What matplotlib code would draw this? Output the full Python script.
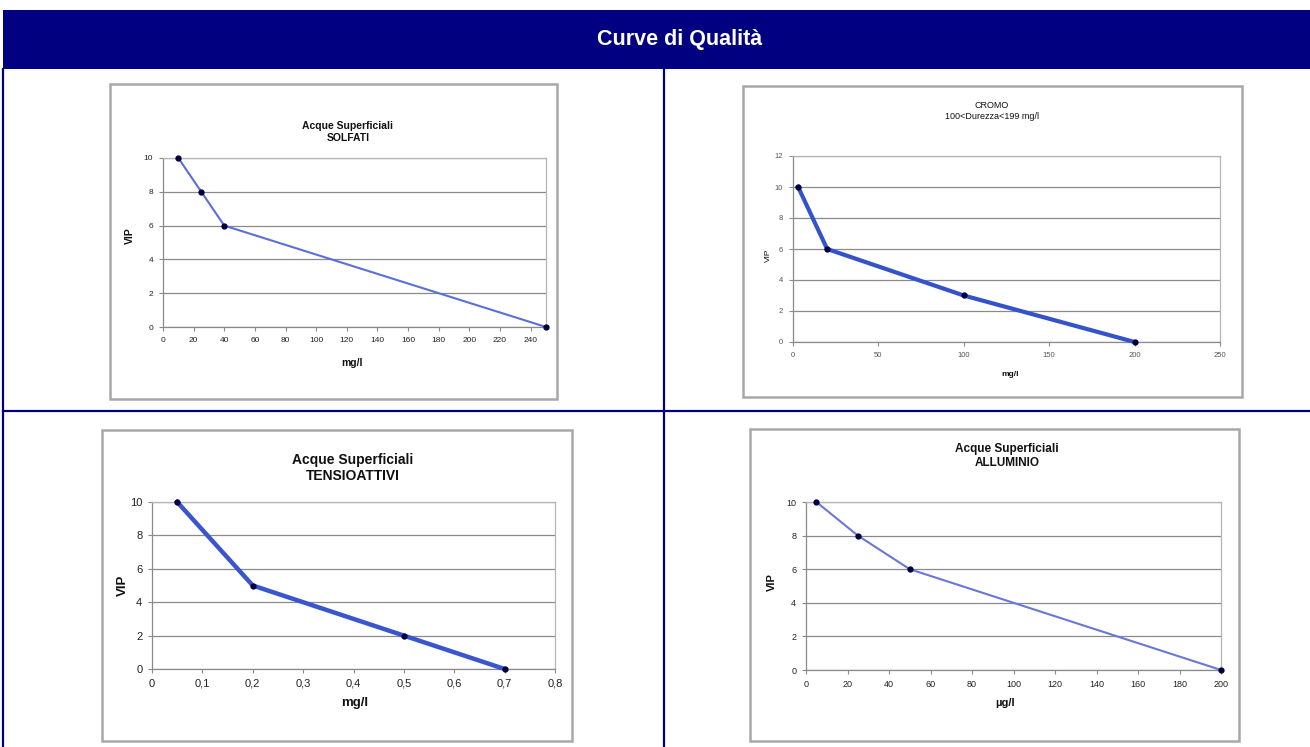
import matplotlib
matplotlib.use("Agg")
import matplotlib.pyplot as plt
from matplotlib.patches import Rectangle
from matplotlib.lines import Line2D
from matplotlib.ticker import FuncFormatter, MultipleLocator

plt.rcParams['font.family'] = ['Liberation Sans', 'DejaVu Sans']

W, H = 1310, 747

# ---------------- data ----------------
main_title = "Curve di Qualità"

solfati_title = "Acque Superficiali\nSOLFATI"
solfati_x = [10, 25, 40, 250]
solfati_y = [10, 8, 6, 0]

cromo_title = "CROMO\n100<Durezza<199 mg/l"
cromo_x = [3, 20, 100, 200]
cromo_y = [10, 6, 3, 0]

tensio_title = "Acque Superficiali\nTENSIOATTIVI"
tensio_x = [0.05, 0.2, 0.5, 0.7]
tensio_y = [10, 5, 2, 0]

allum_title = "Acque Superficiali\nALLUMINIO"
allum_x = [5, 25, 50, 200]
allum_y = [10, 8, 6, 0]

y_label = "VIP"
x_label_mg = "mg/l"
x_label_ug = "µg/l"

# ---------------- helpers ----------------
fig = plt.figure(figsize=(W / 100, H / 100), dpi=100)
fig.patch.set_facecolor('white')


def fx(x):
    return x / W


def fy(y):
    return 1 - y / H


def box(x0, y0, x1, y1):
    return [x0 / W, 1 - y1 / H, (x1 - x0) / W, (y1 - y0) / H]


NAVY = '#000080'

# title bar
fig.patches.append(Rectangle((fx(3), fy(69)), (1310 - 3) / W, (69 - 10) / H,
                             transform=fig.transFigure, facecolor=NAVY,
                             edgecolor='none', zorder=-2))
fig.text(fx(680), fy(40), main_title, color='white', fontsize=15.5,
         fontweight='bold', ha='center', va='center')

# table grid lines
for (x0, y0, x1, y1) in [(3, 69, 3, 747), (664, 69, 664, 747), (3, 411, 1310, 411)]:
    fig.lines.append(Line2D([fx(x0), fx(x1)], [fy(y0), fy(y1)],
                            transform=fig.transFigure, color=NAVY, lw=1.6,
                            zorder=-2))


def chart(frame, area, xs, ys, xlim, xstep, ylim, ystep, title, tpos, tsize,
          tweight, xl, xlpos, xlsize, ylpos, ylsize, ylweight, ticksize,
          lcolor, lw, tickcolor='#222222', fmt=None):
    x0, y0, x1, y1 = frame
    fig.patches.append(Rectangle((fx(x0), fy(y1)), (x1 - x0) / W, (y1 - y0) / H,
                                 transform=fig.transFigure, facecolor='none',
                                 edgecolor='#a8a8a8', lw=1.8, zorder=-1))
    ax = fig.add_axes(box(*area))
    ax.set_zorder(1)
    ax.patch.set_alpha(0)
    ax.plot(xs, ys, color=lcolor, lw=lw, marker='o', markersize=3.5,
            markerfacecolor='#000040', markeredgecolor='#000040',
            clip_on=False, zorder=3)
    ax.set_xlim(*xlim)
    ax.set_ylim(*ylim)
    ax.xaxis.set_major_locator(MultipleLocator(xstep))
    ax.yaxis.set_major_locator(MultipleLocator(ystep))
    if fmt is not None:
        ax.xaxis.set_major_formatter(FuncFormatter(fmt))
    ax.grid(axis='y', color='#8a8a8a', lw=0.9)
    ax.set_axisbelow(True)
    for s in ['top', 'right']:
        ax.spines[s].set_color('#b5b5b5')
        ax.spines[s].set_linewidth(0.9)
    for s in ['left', 'bottom']:
        ax.spines[s].set_color('#8a8a8a')
        ax.spines[s].set_linewidth(0.9)
    ax.tick_params(axis='both', labelsize=ticksize, colors='#8a8a8a',
                   labelcolor=tickcolor, length=3, width=0.8, pad=4)
    fig.text(fx(tpos[0]), fy(tpos[1]), title, fontsize=tsize,
             fontweight=tweight, ha='center', va='center', linespacing=1.15,
             color='#111111')
    fig.text(fx(xlpos[0]), fy(xlpos[1]), xl, fontsize=xlsize,
             fontweight='bold', ha='center', va='center', color='#111111')
    fig.text(fx(ylpos[0]), fy(ylpos[1]), y_label, fontsize=ylsize,
             fontweight=ylweight, ha='center', va='center', rotation=90,
             color='#111111')
    return ax


# chart 1 - SOLFATI
chart((110, 84, 557, 399), (163, 158, 546, 327), solfati_x, solfati_y,
      (0, 250), 20, (0, 10), 2, solfati_title, (348, 132), 7.5, 'bold',
      x_label_mg, (352, 363), 7.5, (130, 236), 7.5, 'bold', 6,
      '#5a6fd8', 1.5)

# chart 2 - CROMO
chart((743, 86, 1242, 397), (793, 156, 1220, 342), cromo_x, cromo_y,
      (0, 250), 50, (0, 12), 2, cromo_title, (992, 111), 6.5, 'normal',
      x_label_mg, (1010, 375), 6, (768, 255), 6, 'normal', 5.5,
      '#3352cc', 3.0, tickcolor='#555555')

# chart 3 - TENSIOATTIVI
chart((102, 430, 572, 741), (152, 502, 555, 669), tensio_x, tensio_y,
      (0, 0.8), 0.1, (0, 10), 2, tensio_title, (353, 468), 10, 'bold',
      x_label_mg, (355, 703), 9.5, (123, 585), 9.5, 'bold', 8,
      '#3a55d0', 3.2, fmt=lambda v, p: ('%g' % round(v, 2)).replace('.', ','))

# chart 4 - ALLUMINIO
chart((750, 429, 1239, 741), (806, 502, 1221, 670), allum_x, allum_y,
      (0, 200), 20, (0, 10), 2, allum_title, (1007, 456), 8.5, 'bold',
      x_label_ug, (1005, 703), 8, (772, 582), 8, 'bold', 6.5,
      '#6a76d8', 1.5)

fig.savefig('out.png', dpi=100)
